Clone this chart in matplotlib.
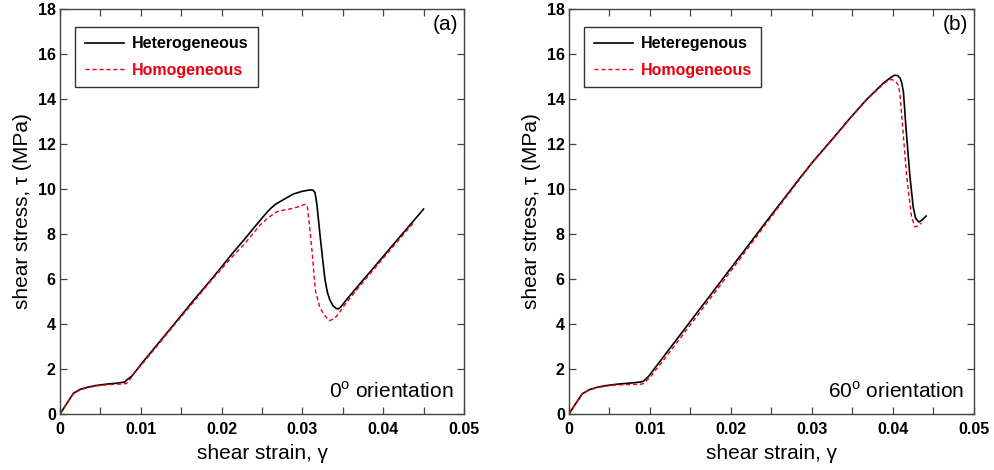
import matplotlib
matplotlib.use("Agg")
import matplotlib.pyplot as plt
from matplotlib.ticker import MultipleLocator

plt.rcParams['font.family'] = ['Liberation Sans', 'DejaVu Sans']
plt.rcParams['mathtext.fontset'] = 'custom'
plt.rcParams['mathtext.rm'] = 'Liberation Sans'

# panel (a): 0 deg orientation
a_het_x = [0, 0.0008, 0.00165, 0.0025, 0.0035, 0.0045, 0.0058, 0.0070, 0.0080, 0.00825,
           0.0089, 0.0103, 0.0120, 0.0140, 0.0165, 0.01856, 0.0202, 0.02145, 0.0228, 0.02393,
           0.0251, 0.0257, 0.0262, 0.0267, 0.02723, 0.0281, 0.02888, 0.0300, 0.03094, 0.0313,
           0.03156, 0.0318, 0.0322, 0.0325, 0.0328, 0.0331, 0.0334, 0.0338, 0.0342, 0.03445,
           0.0348, 0.0355, 0.0370, 0.0390, 0.0410, 0.0430, 0.0450]
a_het_y = [0, 0.45, 0.92, 1.10, 1.20, 1.27, 1.33, 1.37, 1.42, 1.51,
           1.69, 2.33, 3.07, 3.94, 5.04, 5.91, 6.63, 7.19, 7.75, 8.25,
           8.75, 9.00, 9.18, 9.33, 9.44, 9.62, 9.78, 9.90, 9.96, 9.95,
           9.84, 9.30, 7.88, 6.90, 5.96, 5.40, 5.07, 4.80, 4.69, 4.67,
           4.78, 5.10, 5.74, 6.58, 7.43, 8.27, 9.11]

a_hom_x = [0, 0.0008, 0.00165, 0.0025, 0.0035, 0.0045, 0.0058, 0.0070, 0.0078, 0.0082,
           0.0086, 0.0092, 0.0103, 0.0120, 0.0140, 0.0165, 0.0185, 0.0198, 0.0213, 0.02269,
           0.0238, 0.02475, 0.0258, 0.02682, 0.0279, 0.02888, 0.0297, 0.0303, 0.0306, 0.0309,
           0.0312, 0.0316, 0.0321, 0.0326, 0.0333, 0.0337, 0.0342, 0.0353, 0.0370, 0.0390,
           0.0410, 0.0437]
a_hom_y = [0, 0.45, 0.90, 1.08, 1.18, 1.25, 1.30, 1.33, 1.33, 1.36,
           1.50, 1.85, 2.28, 3.02, 3.90, 4.97, 5.85, 6.38, 6.98, 7.51,
           7.98, 8.40, 8.73, 8.99, 9.08, 9.14, 9.24, 9.32, 9.25, 8.30,
           7.20, 5.50, 4.80, 4.45, 4.15, 4.20, 4.33, 4.88, 5.65, 6.50,
           7.35, 8.48]

# panel (b): 60 deg orientation
b_het_x = [0, 0.0008, 0.00165, 0.0025, 0.0035, 0.0045, 0.0058, 0.0070, 0.0080, 0.0088,
           0.0092, 0.0098, 0.0120, 0.0150, 0.0195, 0.0250, 0.0285, 0.0302, 0.0326, 0.0347,
           0.0367, 0.0388, 0.0397, 0.0402, 0.0406, 0.0409, 0.0411, 0.0413, 0.0416, 0.0421,
           0.0425, 0.0428, 0.0432, 0.0436, 0.0441]
b_het_y = [0, 0.45, 0.90, 1.08, 1.19, 1.26, 1.32, 1.36, 1.39, 1.42,
           1.46, 1.66, 2.70, 4.12, 6.25, 8.85, 10.48, 11.25, 12.25, 13.15,
           13.96, 14.70, 14.95, 15.06, 15.04, 14.92, 14.70, 14.30, 12.77, 10.55,
           9.21, 8.70, 8.53, 8.62, 8.80]

b_hom_x = [0, 0.0008, 0.00165, 0.0025, 0.0035, 0.0045, 0.0058, 0.0071, 0.0082, 0.0090,
           0.0093, 0.0096, 0.0100, 0.0120, 0.0150, 0.0195, 0.0250, 0.0285, 0.0302, 0.0326,
           0.0347, 0.0367, 0.0388, 0.03943, 0.03984, 0.0403, 0.04066, 0.04086, 0.0412, 0.0417,
           0.0423, 0.0427, 0.0431, 0.0435]
b_hom_y = [0, 0.45, 0.90, 1.07, 1.17, 1.24, 1.29, 1.31, 1.32, 1.33,
           1.38, 1.50, 1.62, 2.55, 3.97, 6.12, 8.78, 10.44, 11.23, 12.23,
           13.13, 13.94, 14.66, 14.84, 14.87, 14.80, 14.62, 14.25, 12.77, 10.55,
           8.77, 8.32, 8.36, 8.49]

panels = [
    dict(hx=a_het_x, hy=a_het_y, mx=a_hom_x, my=a_hom_y,
         het_label='Heterogeneous', tag='(a)', orient='0'),
    dict(hx=b_het_x, hy=b_het_y, mx=b_hom_x, my=b_hom_y,
         het_label='Heteregenous', tag='(b)', orient='60'),
]

fig = plt.figure(figsize=(9.94, 4.70), dpi=100)
axes_pos = [[0.0604, 0.1191, 0.4064, 0.8617],
            [0.5724, 0.1191, 0.4074, 0.8617]]

for pos, p in zip(axes_pos, panels):
    ax = fig.add_axes(pos)
    ax.plot(p['hx'], p['hy'], color='black', lw=1.2, label=p['het_label'])
    ax.plot(p['mx'], p['my'], color='#e8000b', lw=1.0, ls=(0, (3, 2)),
            label='Homogeneous')

    ax.set_xlim(0, 0.05)
    ax.set_ylim(0, 18)
    ax.xaxis.set_major_locator(MultipleLocator(0.01))
    ax.xaxis.set_minor_locator(MultipleLocator(0.005))
    ax.yaxis.set_major_locator(MultipleLocator(2))
    ax.xaxis.set_major_formatter(plt.FuncFormatter(
        lambda v, _: '0' if abs(v) < 1e-9 else f'{v:.2f}'))
    ax.tick_params(which='both', direction='in', top=True, right=True,
                   length=5, width=0.9, color='#444444')
    ax.tick_params(axis='x', pad=6)
    ax.tick_params(axis='y', pad=3)
    for lab in ax.get_xticklabels() + ax.get_yticklabels():
        lab.set_fontweight('bold')
        lab.set_fontsize(11.5)
    for s in ax.spines.values():
        s.set_color('#444444')
        s.set_linewidth(1.0)

    ax.set_xlabel('shear strain, γ', fontsize=15, labelpad=5)
    ax.set_ylabel('shear stress, τ (MPa)', fontsize=15, labelpad=4)

    ax.text(0.985, 0.985, p['tag'], transform=ax.transAxes, ha='right',
            va='top', fontsize=15)
    ax.text(0.975, 0.03, p['orient'] + r'$^{\rm o}$ orientation',
            transform=ax.transAxes, ha='right', va='bottom', fontsize=15)

    leg = ax.legend(loc='upper left', bbox_to_anchor=(0.037, 0.956),
                    borderaxespad=0, fancybox=False, edgecolor='#333333',
                    framealpha=1, handlelength=2.5, handletextpad=0.45,
                    labelspacing=0.7, borderpad=0.6, labelcolor='linecolor',
                    prop={'weight': 'bold', 'size': 11.5})
    leg.get_frame().set_linewidth(1.0)

fig.savefig('out.png', dpi=100)
